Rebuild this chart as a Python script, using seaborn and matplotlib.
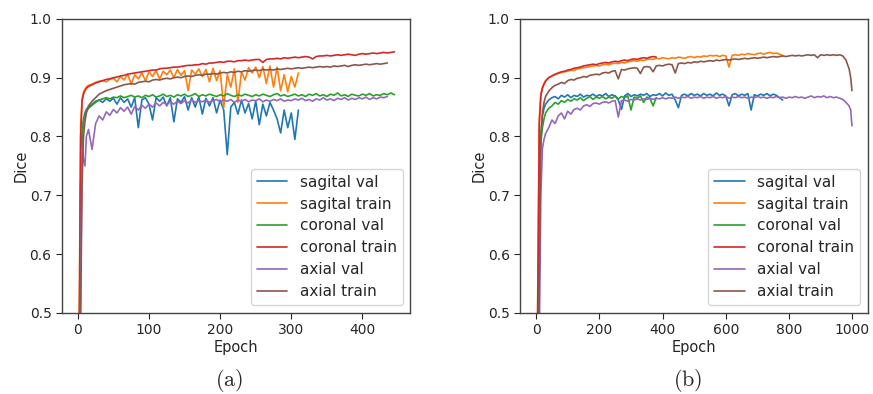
import numpy as np
import matplotlib
matplotlib.use("Agg")
import matplotlib.pyplot as plt
import seaborn as sns

# ----------------------------------------------------------
# Data
# ----------------------------------------------------------

labels = ["sagital val", "sagital train", "coronal val",
          "coronal train", "axial val", "axial train"]
colors = sns.color_palette("tab10", 6)

# (a) epochs: dense at the start, then every 5 epochs
epochs_a = [0, 2, 4, 6, 8, 10, 12] + list(range(15, 446, 5))

sag_val_a = [
    0.20, 0.40, 0.70, 0.80, 0.830, 0.840, 0.846,
    0.850, 0.855, 0.860, 0.862, 0.858, 0.864, 0.860, 0.865, 0.855, 0.866,
    0.858, 0.864, 0.850, 0.866, 0.815, 0.862, 0.866, 0.855, 0.828, 0.866,
    0.860, 0.867, 0.852, 0.866, 0.825, 0.864, 0.858, 0.868, 0.845, 0.866,
    0.850, 0.867, 0.838, 0.865, 0.852, 0.866, 0.840, 0.862, 0.845, 0.769,
    0.850, 0.858, 0.838, 0.862, 0.840, 0.856, 0.830, 0.860, 0.820, 0.855,
    0.835, 0.858, 0.845, 0.830, 0.806, 0.845, 0.815, 0.840, 0.795, 0.845,
]
sag_train_a = [
    0.25, 0.50, 0.82, 0.865, 0.875, 0.880, 0.884,
    0.887, 0.889, 0.892, 0.894, 0.895, 0.893, 0.897, 0.899, 0.893, 0.902,
    0.896, 0.906, 0.889, 0.905, 0.898, 0.908, 0.895, 0.910, 0.902, 0.912,
    0.898, 0.911, 0.905, 0.913, 0.900, 0.914, 0.904, 0.912, 0.878, 0.913,
    0.906, 0.915, 0.902, 0.914, 0.893, 0.916, 0.895, 0.912, 0.849, 0.905,
    0.884, 0.915, 0.858, 0.910, 0.896, 0.917, 0.908, 0.918, 0.900, 0.919,
    0.890, 0.920, 0.884, 0.918, 0.878, 0.905, 0.876, 0.902, 0.884, 0.908,
]
cor_val_a = [
    0.20, 0.40, 0.72, 0.80, 0.825, 0.835, 0.842,
    0.848, 0.853, 0.858, 0.862, 0.864, 0.866, 0.864, 0.867, 0.866, 0.869,
    0.866, 0.868, 0.870, 0.867, 0.869, 0.866, 0.870, 0.868, 0.871, 0.867,
    0.869, 0.872, 0.868, 0.870, 0.867, 0.871, 0.869, 0.872, 0.868, 0.870,
    0.873, 0.868, 0.871, 0.869, 0.872, 0.870, 0.868, 0.871, 0.869, 0.873,
    0.870, 0.868, 0.871, 0.869, 0.872, 0.870, 0.868, 0.871, 0.869, 0.872,
    0.870, 0.868, 0.871, 0.873, 0.869, 0.871, 0.868, 0.870, 0.872, 0.869,
    0.871, 0.868, 0.872, 0.870, 0.873, 0.869, 0.871, 0.868, 0.872, 0.870,
    0.874, 0.869, 0.871, 0.868, 0.872, 0.870, 0.869, 0.872, 0.870, 0.873,
    0.869, 0.871, 0.870, 0.873, 0.871, 0.874, 0.871,
]
cor_train_a = [
    0.30, 0.45, 0.80, 0.860, 0.872, 0.878, 0.882,
    0.885, 0.888, 0.891, 0.893, 0.895, 0.897, 0.898, 0.900, 0.901, 0.903,
    0.904, 0.906, 0.907, 0.908, 0.909, 0.910, 0.911, 0.912, 0.913, 0.913,
    0.915, 0.916, 0.916, 0.917, 0.918, 0.918, 0.919, 0.920, 0.921, 0.921,
    0.922, 0.922, 0.924, 0.923, 0.925, 0.925, 0.926, 0.927, 0.926, 0.928,
    0.928, 0.927, 0.929, 0.929, 0.930, 0.929, 0.930, 0.931, 0.931, 0.926,
    0.931, 0.932, 0.932, 0.933, 0.932, 0.934, 0.933, 0.934, 0.935, 0.934,
    0.935, 0.936, 0.935, 0.932, 0.936, 0.937, 0.937, 0.938, 0.937, 0.938,
    0.939, 0.938, 0.939, 0.940, 0.939, 0.938, 0.940, 0.941, 0.940, 0.941,
    0.942, 0.941, 0.942, 0.943, 0.942, 0.943, 0.944,
]
ax_val_a = [
    0.10, 0.30, 0.55, 0.78, 0.76, 0.75, 0.80,
    0.812, 0.778, 0.822, 0.835, 0.828, 0.842, 0.836, 0.846, 0.840, 0.849,
    0.843, 0.850, 0.838, 0.851, 0.845, 0.853, 0.848, 0.855, 0.850, 0.857,
    0.852, 0.858, 0.854, 0.859, 0.855, 0.860, 0.856, 0.861, 0.857, 0.862,
    0.858, 0.861, 0.859, 0.862, 0.858, 0.861, 0.863, 0.859, 0.862, 0.860,
    0.863, 0.858, 0.862, 0.860, 0.863, 0.859, 0.862, 0.861, 0.864, 0.859,
    0.862, 0.860, 0.863, 0.861, 0.864, 0.860, 0.862, 0.861, 0.864, 0.862,
    0.865, 0.861, 0.863, 0.860, 0.864, 0.862, 0.866, 0.862, 0.864, 0.861,
    0.865, 0.863, 0.866, 0.862, 0.865, 0.863, 0.866, 0.864, 0.867, 0.863,
    0.866, 0.864, 0.867, 0.866, 0.868,
]
ax_train_a = [
    0.10, 0.30, 0.50, 0.72, 0.80, 0.825, 0.840,
    0.852, 0.860, 0.866, 0.872, 0.875, 0.878, 0.880, 0.882, 0.884, 0.886,
    0.888, 0.889, 0.890, 0.889, 0.892, 0.893, 0.894, 0.893, 0.896, 0.897,
    0.896, 0.898, 0.899, 0.898, 0.900, 0.901, 0.900, 0.902, 0.903, 0.902,
    0.904, 0.905, 0.904, 0.906, 0.906, 0.907, 0.906, 0.908, 0.909, 0.908,
    0.910, 0.909, 0.911, 0.910, 0.912, 0.911, 0.912, 0.913, 0.912, 0.914,
    0.913, 0.914, 0.913, 0.915, 0.914, 0.915, 0.916, 0.915, 0.916, 0.917,
    0.916, 0.917, 0.918, 0.917, 0.918, 0.919, 0.918, 0.919, 0.918, 0.920,
    0.919, 0.920, 0.921, 0.919, 0.921, 0.922, 0.921, 0.922, 0.923, 0.922,
    0.923, 0.924, 0.923, 0.924, 0.925,
]

# (b) epochs: dense at the start, every 10 epochs, last points at the end
epochs_b = [0, 5, 10, 15, 20, 25, 30] + list(range(40, 1000, 10)) + [995, 999]

sag_val_b = [
    0.10, 0.30, 0.70, 0.80, 0.835, 0.848, 0.855,
    0.862, 0.866, 0.868, 0.864, 0.870, 0.867, 0.871, 0.866, 0.870, 0.868,
    0.872, 0.867, 0.870, 0.869, 0.872, 0.868, 0.871, 0.869, 0.873, 0.868,
    0.871, 0.869, 0.862, 0.846, 0.869, 0.873, 0.868, 0.871, 0.869, 0.872,
    0.870, 0.873, 0.868, 0.871, 0.870, 0.873, 0.869, 0.874, 0.870, 0.872,
    0.862, 0.849, 0.870, 0.872, 0.869, 0.873, 0.870, 0.872, 0.869, 0.873,
    0.870, 0.872, 0.869, 0.874, 0.870, 0.872, 0.869, 0.852, 0.871, 0.873,
    0.869, 0.872, 0.870, 0.873, 0.845, 0.871, 0.869, 0.872, 0.870, 0.873,
    0.869, 0.872, 0.870, 0.866, 0.862,
]
sag_train_b = [
    0.20, 0.52, 0.83, 0.872, 0.884, 0.890, 0.895,
    0.900, 0.903, 0.905, 0.907, 0.909, 0.910, 0.911, 0.913, 0.912, 0.915,
    0.916, 0.917, 0.918, 0.919, 0.920, 0.921, 0.920, 0.922, 0.923, 0.922,
    0.924, 0.925, 0.924, 0.926, 0.925, 0.927, 0.928, 0.929, 0.928, 0.930,
    0.929, 0.931, 0.932, 0.931, 0.933, 0.932, 0.934, 0.933, 0.932, 0.934,
    0.933, 0.935, 0.934, 0.933, 0.935, 0.936, 0.934, 0.936, 0.935, 0.937,
    0.936, 0.938, 0.937, 0.938, 0.936, 0.938, 0.937, 0.918, 0.938, 0.939,
    0.938, 0.940, 0.939, 0.941, 0.940, 0.939, 0.941, 0.942, 0.940, 0.942,
    0.943, 0.941, 0.942, 0.940, 0.938,
]
cor_val_b = [
    0.10, 0.35, 0.72, 0.790, 0.815, 0.830, 0.840,
    0.848, 0.852, 0.858, 0.855, 0.861, 0.858, 0.863, 0.860, 0.864, 0.862,
    0.866, 0.861, 0.865, 0.868, 0.863, 0.867, 0.865, 0.868, 0.864, 0.867,
    0.865, 0.869, 0.864, 0.868, 0.866, 0.869, 0.845, 0.867, 0.865, 0.869,
    0.858, 0.867, 0.865, 0.852, 0.866,
]
cor_train_b = [
    0.20, 0.50, 0.82, 0.870, 0.882, 0.889, 0.894,
    0.900, 0.903, 0.906, 0.908, 0.910, 0.911, 0.913, 0.914, 0.916, 0.917,
    0.918, 0.920, 0.921, 0.922, 0.923, 0.922, 0.924, 0.925, 0.926, 0.925,
    0.927, 0.928, 0.927, 0.929, 0.930, 0.929, 0.931, 0.932, 0.931, 0.933,
    0.934, 0.933, 0.935, 0.936, 0.935,
]
ax_val_b = [
    0.05, 0.20, 0.45, 0.70, 0.780, 0.795, 0.805,
    0.815, 0.828, 0.822, 0.835, 0.840, 0.830, 0.843, 0.838, 0.846, 0.848,
    0.845, 0.852, 0.854, 0.851, 0.856, 0.857, 0.855, 0.858, 0.859, 0.857,
    0.860, 0.861, 0.833, 0.861, 0.862, 0.860, 0.863, 0.862, 0.864, 0.862,
    0.864, 0.863, 0.865, 0.863, 0.865, 0.864, 0.866, 0.864, 0.866, 0.865,
    0.867, 0.865, 0.867, 0.866, 0.868, 0.865, 0.867, 0.866, 0.868, 0.865,
    0.867, 0.866, 0.868, 0.865, 0.867, 0.866, 0.868, 0.865, 0.867, 0.866,
    0.868, 0.866, 0.867, 0.865, 0.867, 0.866, 0.868, 0.866, 0.867, 0.865,
    0.867, 0.866, 0.868, 0.866, 0.867, 0.865, 0.867, 0.866, 0.868, 0.866,
    0.867, 0.865, 0.867, 0.869, 0.866, 0.868, 0.867, 0.869, 0.866, 0.868,
    0.866, 0.867, 0.865, 0.863, 0.858, 0.852, 0.845, 0.818,
]
ax_train_b = [
    0.10, 0.25, 0.55, 0.80, 0.840, 0.858, 0.868,
    0.877, 0.883, 0.887, 0.889, 0.892, 0.890, 0.895, 0.897, 0.896, 0.899,
    0.900, 0.902, 0.901, 0.904, 0.905, 0.906, 0.905, 0.908, 0.909, 0.908,
    0.911, 0.912, 0.898, 0.914, 0.913, 0.915, 0.916, 0.917, 0.916, 0.907,
    0.918, 0.919, 0.918, 0.910, 0.920, 0.921, 0.920, 0.922, 0.923, 0.922,
    0.908, 0.924, 0.925, 0.924, 0.926, 0.925, 0.927, 0.926, 0.928, 0.927,
    0.928, 0.929, 0.928, 0.930, 0.929, 0.930, 0.931, 0.930, 0.931, 0.932,
    0.931, 0.932, 0.933, 0.932, 0.933, 0.934, 0.933, 0.934, 0.935, 0.934,
    0.935, 0.936, 0.935, 0.936, 0.937, 0.936, 0.937, 0.938, 0.937, 0.938,
    0.937, 0.938, 0.939, 0.938, 0.939, 0.934, 0.939, 0.938, 0.939, 0.938,
    0.939, 0.938, 0.939, 0.937, 0.930, 0.915, 0.900, 0.878,
]

series_a = [sag_val_a, sag_train_a, cor_val_a, cor_train_a, ax_val_a, ax_train_a]
series_b = [sag_val_b, sag_train_b, cor_val_b, cor_train_b, ax_val_b, ax_train_b]

# ----------------------------------------------------------
# Figure
# ----------------------------------------------------------

sns.set_style("ticks")
plt.rcParams["font.family"] = ["DejaVu Sans"]
plt.rcParams["mathtext.fontset"] = "cm"

fig = plt.figure(figsize=(8.73, 3.94), dpi=100)
ax_a = fig.add_axes([0.071, 0.206, 0.399, 0.746])
ax_b = fig.add_axes([0.596, 0.206, 0.398, 0.746])


def draw(ax, epochs, series, xticks):
    for vals, lab, col in zip(series, labels, colors):
        sns.lineplot(x=epochs[:len(vals)], y=vals, ax=ax, color=col,
                     label=lab, lw=1.2, estimator=None, sort=False)
    ax.set_ylim(0.5, 1.0)
    ax.set_yticks([0.5, 0.6, 0.7, 0.8, 0.9, 1.0])
    ax.set_xticks(xticks)
    ax.tick_params(labelsize=10, direction="out", length=4)
    ax.set_xlabel("Epoch", fontsize=10.5, labelpad=2)
    ax.set_ylabel("Dice", fontsize=10.5, labelpad=1)
    for s in ax.spines.values():
        s.set_color("#444444")
        s.set_linewidth(1.0)
    ax.legend(loc="lower right", fontsize=11, frameon=True,
              handlelength=2.0, borderaxespad=0.5, labelspacing=0.45)


draw(ax_a, epochs_a, series_a, [0, 100, 200, 300, 400])
draw(ax_b, epochs_b, series_b, [0, 200, 400, 600, 800, 1000])

fig.text(0.262, 0.035, r"$\mathrm{(a)}$", fontsize=16, ha="center", va="center")
fig.text(0.788, 0.035, r"$\mathrm{(b)}$", fontsize=16, ha="center", va="center")

plt.savefig("out.png", dpi=100)
plt.close()
